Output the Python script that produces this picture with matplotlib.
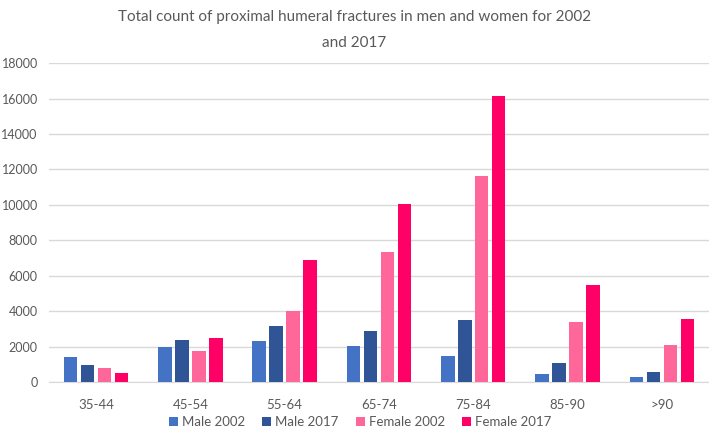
import matplotlib
matplotlib.use("Agg")
import matplotlib.pyplot as plt
import numpy as np

categories = ["35-44", "45-54", "55-64", "65-74", "75-84", "85-90", ">90"]
series_names = ["Male 2002", "Male 2017", "Female 2002", "Female 2017"]
male_2002 = [1410, 1960, 2300, 2030, 1480, 470, 280]
male_2017 = [950, 2370, 3150, 2880, 3480, 1070, 580]
female_2002 = [770, 1750, 3980, 7360, 11600, 3390, 2070]
female_2017 = [530, 2470, 6910, 10070, 16120, 5460, 3560]
yticks = list(range(0, 18001, 2000))
colors = ["#4472C4", "#2F5597", "#FF6699", "#FF0066"]
title_lines = ["Total count of proximal humeral fractures in men and women for 2002", "and 2017"]

plt.rcParams['font.family'] = ['Lato', 'DejaVu Sans']

fig = plt.figure(figsize=(7.09, 4.38), dpi=100)
ax = fig.add_axes([0.069, 0.128, 0.931, 0.728])

x = np.arange(len(categories))
step = 0.18
width = 0.143
data = [male_2002, male_2017, female_2002, female_2017]
for i, (vals, name, c) in enumerate(zip(data, series_names, colors)):
    ax.bar(x + (i - 1.5) * step, vals, width=width, color=c, label=name, zorder=3)

ax.set_xlim(-0.5, len(categories) - 0.5)
ax.set_ylim(0, 18000)
ax.set_yticks(yticks)
ax.set_yticklabels([str(t) for t in yticks])
ax.set_xticks(x)
ax.set_xticklabels(categories)
ax.grid(axis='y', color='#D9D9D9', linewidth=1, zorder=0)
for s in ['top', 'right', 'left']:
    ax.spines[s].set_visible(False)
ax.spines['bottom'].set_color('#D9D9D9')
ax.tick_params(axis='x', length=0, labelsize=9.5, colors='#595959', pad=12)
ax.tick_params(axis='y', length=0, labelsize=9, colors='#595959', pad=8)

fig.text(0.5, 1 - 17 / 438, title_lines[0], ha='center', va='center', fontsize=11, color='#595959')
fig.text(0.5, 1 - 43 / 438, title_lines[1], ha='center', va='center', fontsize=11, color='#595959')

fig.legend(loc='center', ncol=4, bbox_to_anchor=(0.508, 1 - 422 / 438), frameon=False,
           fontsize=9.5, labelcolor='#595959', handlelength=0.7, handleheight=0.7,
           handletextpad=0.3, columnspacing=1.3)

fig.savefig("out.png", dpi=100)
